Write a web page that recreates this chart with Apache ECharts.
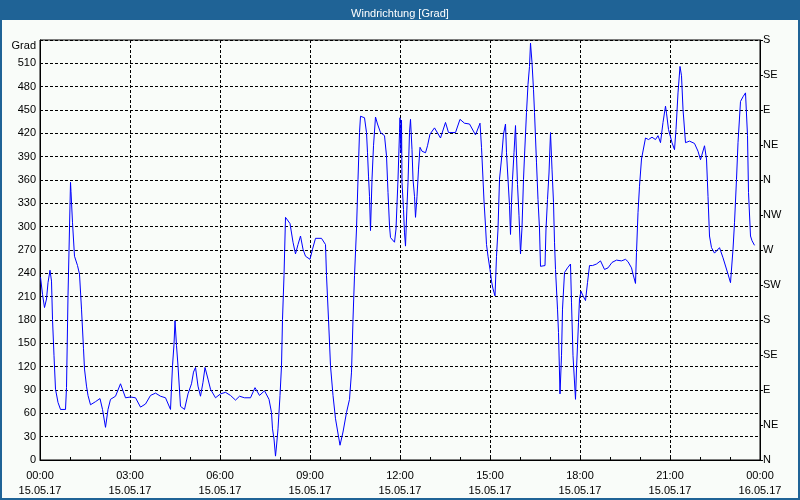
<!DOCTYPE html>
<html>
<head>
<meta charset="utf-8">
<script src="https://cdn.jsdelivr.net/npm/echarts@6/dist/echarts.min.js"></script>
<style>
  html, body { margin: 0; padding: 0; background: #f9fcf9; }
  #chart { width: 800px; height: 500px; }
</style>
</head>
<body>
<div id="chart"></div>
<script>
// minutes since 15.05.17 00:00 and wind direction in degrees
const minutes = [
  1, 5, 9, 13, 16, 20, 23, 25, 28, 31, 36, 41, 51, 53, 56, 58, 61, 62, 63, 65,
  69, 75, 79, 83, 87, 89, 93, 96, 101, 111, 120, 125, 131, 136, 141, 151, 161, 171, 181, 191,
  201, 211, 221, 231, 241, 251, 261, 265, 268, 270, 273, 276, 281, 289, 296, 303, 307, 311, 316, 321,
  326, 330, 336, 341, 351, 361, 371, 381, 391, 399, 409, 421, 430, 439, 449, 458, 463, 465, 468, 471,
  473, 476, 480, 483, 485, 488, 491, 500, 506, 511, 516, 521, 526, 531, 540, 545, 551, 563, 571, 573,
  577, 581, 586, 591, 600, 606, 613, 619, 623, 626, 629, 633, 636, 639, 641, 649, 653, 655, 657, 659,
  661, 664, 667, 671, 675, 681, 689, 693, 696, 699, 701, 709, 712, 716, 719, 720, 722, 723, 724, 727,
  729, 731, 734, 736, 739, 741, 744, 746, 749, 751, 754, 757, 760, 764, 771, 775, 780, 789, 801, 811,
  817, 831, 840, 849, 859, 871, 880, 883, 886, 888, 891, 893, 896, 900, 903, 906, 910, 913, 916, 919,
  923, 927, 931, 933, 936, 939, 941, 943, 945, 948, 951, 953, 955, 958, 961, 964, 967, 969, 973, 976,
  979, 981, 984, 987, 989, 993, 996, 999, 1001, 1010, 1012, 1015, 1018, 1021, 1024, 1027, 1029, 1031, 1035, 1037,
  1040, 1043, 1045, 1049, 1055, 1061, 1063, 1066, 1071, 1073, 1077, 1079, 1082, 1086, 1091, 1095, 1099, 1105, 1113, 1121,
  1129, 1136, 1144, 1153, 1163, 1171, 1176, 1183, 1186, 1191, 1193, 1196, 1199, 1203, 1211, 1217, 1224, 1231, 1236, 1241,
  1246, 1251, 1253, 1257, 1264, 1269, 1272, 1276, 1280, 1283, 1286, 1291, 1299, 1309, 1316, 1321, 1329, 1333, 1336, 1339,
  1343, 1349, 1359, 1366, 1376, 1381, 1386, 1389, 1393, 1396, 1401, 1406, 1411, 1415, 1417, 1421, 1424, 1429
];
const grad = [
  235, 213, 196, 207, 228, 244, 230, 181, 134, 91, 74, 65, 65, 93, 211, 269, 357, 345, 347, 305,
  262, 250, 239, 194, 143, 117, 95, 83, 71, 75, 79, 65, 42, 65, 78, 82, 98, 80, 81, 80,
  68, 72, 83, 86, 82, 80, 65, 121, 149, 179, 147, 121, 69, 65, 85, 98, 113, 119, 95, 82,
  100, 119, 104, 91, 80, 85, 87, 83, 77, 82, 80, 80, 93, 83, 89, 78, 61, 40, 27, 5,
  18, 40, 83, 121, 181, 237, 312, 304, 280, 265, 277, 288, 271, 262, 258, 271, 285, 285, 277, 237,
  181, 121, 83, 53, 19, 36, 61, 78, 113, 181, 237, 297, 361, 421, 442, 440, 421, 395, 365, 339,
  295, 361, 404, 441, 432, 421, 417, 391, 344, 301, 286, 280, 297, 361, 421, 440, 395, 437, 357, 322,
  292, 275, 327, 357, 421, 438, 399, 361, 339, 312, 339, 374, 402, 397, 395, 404, 419, 427, 414, 434,
  421, 421, 438, 433, 432, 418, 433, 402, 361, 333, 301, 277, 262, 245, 230, 220, 211, 262, 297, 361,
  387, 419, 432, 395, 361, 327, 290, 331, 361, 395, 430, 391, 354, 314, 265, 299, 361, 391, 447, 483,
  506, 536, 511, 476, 447, 382, 335, 297, 249, 250, 297, 335, 369, 421, 374, 331, 280, 245, 194, 164,
  85, 134, 194, 241, 247, 252, 202, 134, 78, 117, 177, 207, 217, 211, 205, 228, 250, 250, 252, 256,
  245, 247, 254, 257, 256, 258, 255, 247, 239, 227, 267, 318, 352, 387, 414, 412, 415, 412, 417, 408,
  434, 455, 446, 425, 408, 399, 425, 472, 506, 494, 451, 408, 410, 407, 397, 386, 404, 387, 339, 288,
  273, 266, 273, 260, 239, 228, 271, 305, 361, 408, 461, 467, 472, 417, 344, 288, 282, 276
];
const compassLabels = ['N', 'NE', 'E', 'SE', 'S', 'SW', 'W', 'NW', 'N', 'NE', 'E', 'SE', 'S'];
const dayLabels = ['15.05.17', '16.05.17'];

const font = "'Liberation Sans', Arial, sans-serif";
const frameBlue = '#1f6396';

const chart = echarts.init(document.getElementById('chart'), null, { renderer: 'canvas' });

const pad = n => (n < 10 ? '0' : '') + n;

chart.setOption({
  animation: false,
  backgroundColor: '#f9fcf9',
  textStyle: { fontFamily: font },
  title: {
    text: 'Windrichtung [Grad]',
    left: 'center',
    top: 3,
    textStyle: {
      color: '#ffffff',
      fontSize: 11,
      fontWeight: 'normal',
      fontFamily: "'Liberation Sans Narrow', 'Liberation Sans', Arial, sans-serif"
    }
  },
  graphic: [
    { type: 'rect', z: 0, shape: { x: 0, y: 0, width: 800, height: 20 }, style: { fill: frameBlue } },
    { type: 'rect', z: 0, shape: { x: 0, y: 0, width: 2, height: 500 }, style: { fill: frameBlue } },
    { type: 'rect', z: 0, shape: { x: 798, y: 0, width: 2, height: 500 }, style: { fill: frameBlue } },
    { type: 'rect', z: 0, shape: { x: 0, y: 498, width: 800, height: 2 }, style: { fill: frameBlue } }
  ],
  grid: {
    left: 40,
    right: 40,
    top: 40,
    bottom: 40,
    show: true,
    borderColor: '#000',
    borderWidth: 1,
    backgroundColor: 'transparent'
  },
  xAxis: {
    type: 'value',
    min: 0,
    max: 1440,
    interval: 180,
    axisLine: { show: true, lineStyle: { color: '#000', width: 1 } },
    axisTick: { show: true, inside: true, length: 3, lineStyle: { color: '#000' } },
    minorTick: { show: true, splitNumber: 3, length: 3, lineStyle: { color: '#000' } },
    splitLine: { show: true, lineStyle: { color: '#000', type: [3, 2], width: 1 } },
    axisLabel: {
      color: '#000',
      fontSize: 11,
      lineHeight: 15,
      margin: 8,
      showMinLabel: true,
      showMaxLabel: true,
      formatter: v => pad(Math.floor(v / 60) % 24) + ':00\n' + dayLabels[v >= 1440 ? 1 : 0]
    }
  },
  yAxis: [
    {
      type: 'value',
      min: 0,
      max: 540,
      interval: 30,
      name: 'Grad',
      nameLocation: 'end',
      nameGap: -6,
      nameTextStyle: { color: '#000', fontSize: 11, align: 'right', verticalAlign: 'middle', padding: [0, 4, 0, 0] },
      axisLine: { show: true, lineStyle: { color: '#000' } },
      axisTick: { show: false },
      splitLine: { show: true, lineStyle: { color: '#000', type: [3, 2], width: 1 } },
      axisLabel: {
        color: '#000',
        fontSize: 11,
        margin: 4,
        formatter: v => (v >= 540 ? '' : String(v))
      }
    },
    {
      type: 'value',
      position: 'right',
      min: 0,
      max: 540,
      interval: 45,
      axisLine: { show: true, lineStyle: { color: '#000' } },
      axisTick: { show: true, length: 3, lineStyle: { color: '#000' } },
      splitLine: { show: false },
      axisLabel: {
        color: '#000',
        fontSize: 11,
        margin: 3,
        formatter: v => compassLabels[Math.round(v / 45)]
      }
    }
  ],
  series: [
    {
      type: 'line',
      yAxisIndex: 0,
      data: minutes.map((m, i) => [m, grad[i]]),
      showSymbol: false,
      symbol: 'none',
      lineStyle: { color: '#0000ff', width: 1 },
      z: 3
    }
  ]
});
</script>
</body>
</html>
